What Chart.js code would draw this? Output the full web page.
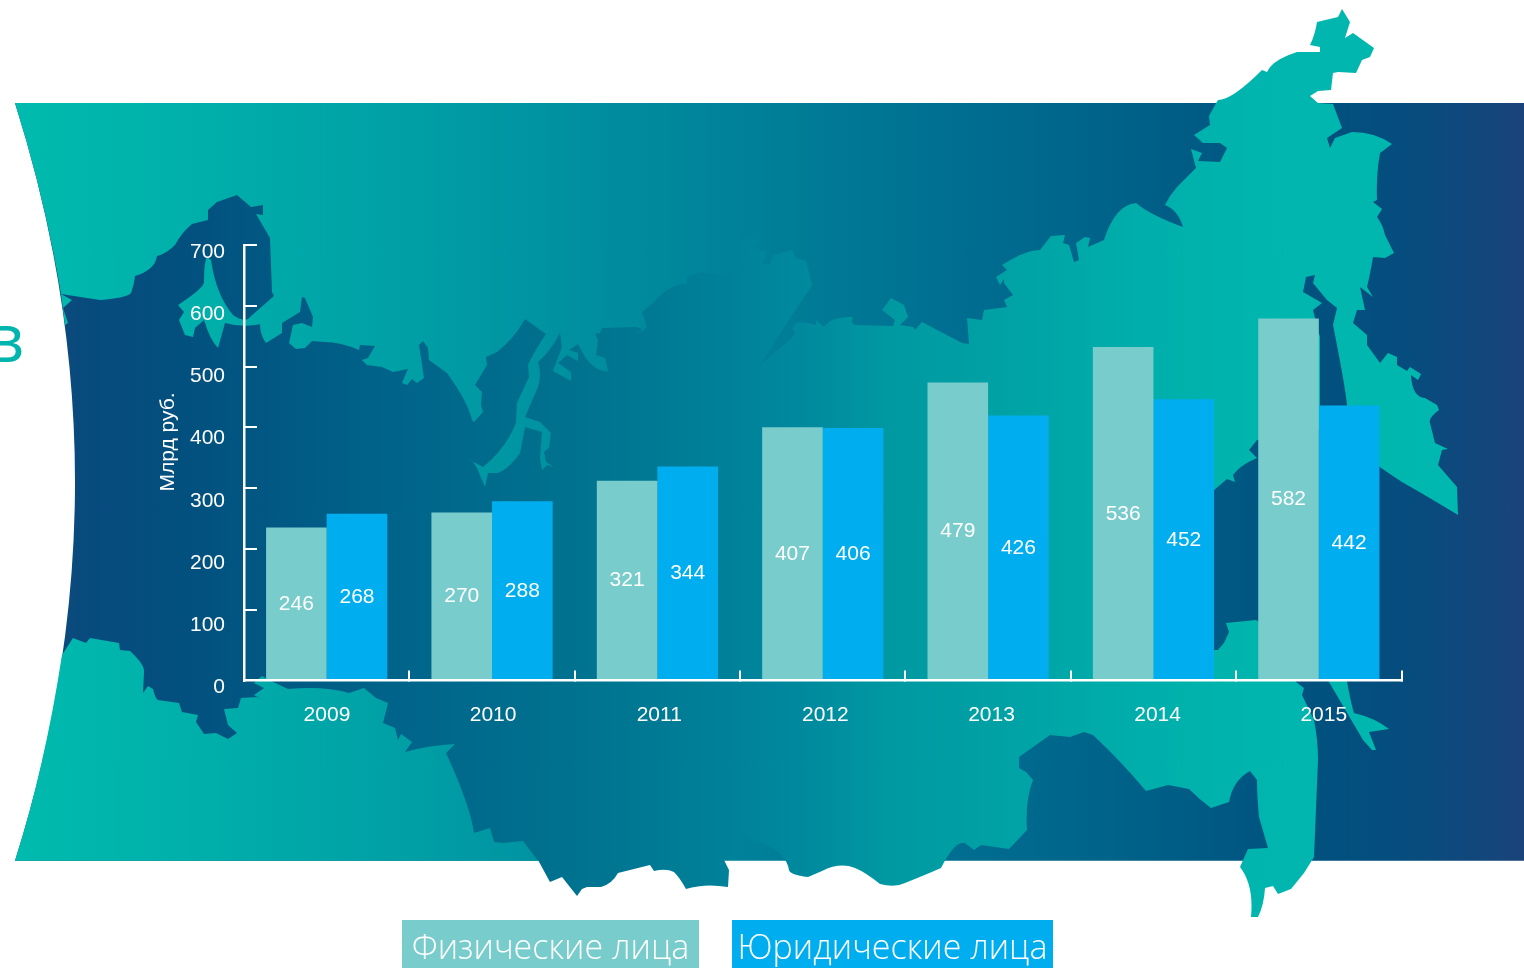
<!DOCTYPE html>
<html lang="ru">
<head>
<meta charset="utf-8">
<title>Физические и юридические лица</title>
<script src="https://cdn.jsdelivr.net/npm/chart.js@4"></script>
<style>
    html, body { margin: 0; padding: 0; background: #fff; overflow: hidden; }
    #page { position: relative; width: 1524px; height: 968px; overflow: hidden; }
    #map, #chart { position: absolute; left: 0; top: 0; }
    .legend { position: absolute; top: 920px; height: 48px; line-height: 52px; color: #fff; text-align: center;
        font-family: "Open Sans", "Noto Sans", sans-serif; font-size: 34px; font-weight: 300; white-space: nowrap; }
    #heading { position: absolute; left: -14px; top: 296px; line-height: 80px; color: #00b5ad;
        font-family: "Open Sans", "Noto Sans", sans-serif; font-size: 67px; font-weight: 400; }
</style>
</head>
<body>
<div id="page">
    <svg id="map" width="1524" height="968" viewBox="0 0 1524 968">
        <defs>
            <linearGradient id="sea" gradientUnits="userSpaceOnUse" x1="0" y1="0" x2="1524" y2="0">
                <stop offset="0.01" stop-color="#14477c"/>
                <stop offset="0.06" stop-color="#074b7d"/>
                <stop offset="0.13" stop-color="#02517f"/>
                <stop offset="0.26" stop-color="#00648a"/>
                <stop offset="0.39" stop-color="#007490"/>
                <stop offset="0.482" stop-color="#00829a"/>
                <stop offset="0.62" stop-color="#006f91"/>
                <stop offset="0.72" stop-color="#00648a"/>
                <stop offset="0.78" stop-color="#005c85"/>
                <stop offset="0.85" stop-color="#00527f"/>
                <stop offset="0.92" stop-color="#054d7e"/>
                <stop offset="1" stop-color="#1a437a"/>
            </linearGradient>
            <linearGradient id="land" gradientUnits="userSpaceOnUse" x1="0" y1="0" x2="1524" y2="0">
                <stop offset="0.01" stop-color="#00bbae"/>
                <stop offset="0.13" stop-color="#00afaa"/>
                <stop offset="0.26" stop-color="#00a0a6"/>
                <stop offset="0.39" stop-color="#008ea0"/>
                <stop offset="0.482" stop-color="#00829a"/>
                <stop offset="0.525" stop-color="#00899e"/>
                <stop offset="0.59" stop-color="#009aa2"/>
                <stop offset="0.656" stop-color="#00a1a5"/>
                <stop offset="0.72" stop-color="#00aba9"/>
                <stop offset="0.82" stop-color="#00b5ae"/>
                <stop offset="0.95" stop-color="#00b8af"/>
            </linearGradient>
        </defs>
        <!-- background band with curved left side -->
        <path fill="url(#sea)" d="M15,103 L1524,103 L1524,860.7 L15,860.7 Q135,482 15,103 Z"/>
        <path fill="url(#sea)" d="M538,860 L550,882 L562,877 L577,896 L582,889 L587,887 L601,887 Q612,884 618,873 L650,865 L654,871 Q666,868 674,872 Q680,878 686,889 Q705,883 728,887 L729,870 L724,860 Z"/>
        <!-- north west land -->
        <path fill="url(#land)" d="M15,103 L735,103 L737,267 L725,277 L701,272 L687,277 L687,284 Q670,284 656,300 L642,312 L647,327 L636,333 L646,330 L636,327 L602,328 L600,333 L595,334 L598,340 L596,355 L605,358 L608,371 Q597,373 585,357 L578,344 L569,350 L578,353 L578,361 L567,355 L558,363 L571,372 L571,381 L553,371 L562,347 L560,333 Q550,352 538,362 Q542,375 538,387 L525,417 L540,422 L551,433 L549,448 L544,452 L546,462 L554,467 L547,465 L542,470 L540,458 L542,432 L525,427 L520,453 Q508,470 497,473 L488,473 L485,487 L477,468 L473,462 L462,456 L483,467 Q505,450 516,423 L517,403 L529,377 L528,365 Q535,350 546,334 L525,319 Q513,340 497,352 L486,357 L487,365 L475,385 L482,392 L481,405 L483,412 L474,422 L472,420 Q468,402 447,373 L429,360 L428,348 L423,341 L419,345 L424,378 L417,383 L412,379 L407,385 L402,383 L408,369 L393,372 L382,367 L367,365 L362,360 L368,358 L375,346 L360,345 L359,350 Q340,342 325,342 L312,341 L305,348 L296,349 L289,343 L293,325 L302,323 L312,327 L313,317 L305,298 L302,297 L300,312 L282,323 L282,333 L266,343 Q260,335 260,324 Q243,328 225,323 L218,348 Q210,340 204,320 L195,328 L193,337 L185,335 L179,320 L184,312 L178,305 Q204,288 204,282 Q204,262 207,257 L211,260 Q216,295 233,315 Q241,321 248,319 L258,310 L274,296 L272,292 L270,238 L256,214 L263,215 L263,205 L251,207 L237,195 L217,202 L208,210 L208,220 L192,224 Q182,232 175,245 Q166,254 157,256 Q155,270 135,276 Q134,285 131,293 Q127,298 100,300 L61,294 Q45,198 15,103 Z"/>
        <path fill="url(#land)" d="M61,294 L72,300 L63,308 L68,323 L65,325 Z"/>
        <!-- south west land -->
        <path fill="url(#land)" d="M62,655 L73,638 L86,643 L90,638 L119,643 L120,650 L130,651 Q145,665 144,672 L143,693 L148,686 L153,689 Q155,698 158,700 L179,703 L182,712 L198,715 L196,722 L204,734 L216,733 L228,739 L237,733 L228,725 L224,709 L238,708 L241,698 L257,697 L263,700 L254,695 L264,688 L254,683 L262,676 L269,680 L288,689 Q325,686 349,693 L364,688 L376,698 L388,703 L383,723 L395,728 L398,740 L401,734 L412,742 L405,752 Q430,745 455,744 L446,753 Q470,805 474,833 L490,828 L494,842 L504,843 L523,841 L538,860.7 L15,860.7 Q45,766 62,655 Z"/>
        <!-- east land with the north peninsula -->
        <path fill="url(#land)" d="M737,267 L732,252 L748,235 L760,242 L754,248 L767,251 L763,264 L770,264 L773,255 L792,250 L796,258 L806,261 L812,285 L779,335 L772,347 L757,368 L775,352 L792,338 L795,333 L792,328 L797,322 L808,323 L816,325 L816,320 L824,327 Q831,316 853,317 Q850,325 857,325 L893,326 L895,320 L882,310 L891,298 L904,305 L908,317 L900,325 L913,327 L915,330 L922,322 L962,343 L969,344 L967,318 L982,320 L984,310 L1007,307 L1004,300 L1013,295 L1004,283 L1004,279 L1000,285 L996,277 L1007,270 L1002,265 Q1025,250 1040,250 L1051,236 L1065,235 L1063,243 L1069,245 L1074,262 L1079,260 L1076,243 L1085,237 L1090,238 L1088,247 L1104,240 Q1115,205 1136,203 Q1150,215 1183,227 Q1178,210 1165,205 Q1170,195 1177,187 L1196,168 L1191,149 L1202,153 L1198,161 L1220,162 L1227,148 L1220,143 L1203,143 L1194,135 L1210,125 L1209,116 Q1215,105 1218,100 Q1232,100 1262,70 L1267,72 Q1272,60 1297,52 L1320,52 L1320,47 L1310,45 Q1315,35 1317,22 L1338,17 L1342,9 L1350,22 L1345,38 L1353,33 L1374,48 L1370,57 L1362,60 L1356,73 L1338,72 L1333,73 L1331,90 L1318,91 L1310,96 L1318,103 L1333,104 L1342,128 L1327,138 L1330,148 L1335,138 L1352,132 Q1375,132 1392,144 L1380,153 Q1376,175 1377,200 L1373,202 L1382,209 L1377,217 Q1383,225 1385,235 L1394,253 L1385,258 L1373,257 Q1370,275 1367,287 L1373,297 L1360,287 L1365,310 L1357,310 L1353,323 L1367,335 L1367,345 L1380,363 L1388,353 L1397,357 L1397,365 L1407,371 L1410,367 L1421,374 L1418,380 L1411,375 Q1412,397 1425,398 L1437,405 L1439,410 Q1428,418 1430,423 L1435,443 L1448,449 L1442,450 L1438,465 L1457,487 L1458,515 Q1425,495 1402,482 L1387,472 L1377,465 L1347,440 L1347,405 Q1345,385 1333,325 L1337,308 L1327,300 L1313,283 L1315,275 L1306,277 L1303,292 L1322,303 L1313,310 L1320,337 L1320,430 L1257,440 L1249,450 L1257,458 Q1240,465 1233,475 L1235,482 L1227,479 L1213,491 L1195,510 L1195,650 L1218,650 L1224,643 L1229,632 L1226,623 L1256,620 L1290,640 L1296,682 L1304,688 L1302,695 L1314,720 Q1318,740 1318,760 L1314,857 L1304,873 L1291,889 L1278,894 L1273,886 L1265,888 Q1264,905 1258,917 L1251,917 Q1254,885 1240,867 L1248,849 L1268,848 L1259,817 Q1257,795 1257,780 L1250,771 Q1233,780 1229,802 L1211,808 Q1200,800 1189,789 L1168,785 L1146,791 Q1120,760 1093,735 L1084,732 L1070,737 L1050,735 L1019,757 L1019,768 L1026,772 L1033,780 Q1025,800 1027,830 L1009,849 L981,845 L974,850 L965,843 Q955,840 941,868 Q925,875 905,883 Q895,888 880,884 Q865,872 855,868 Q840,862 822,871 L808,877 Q790,875 789,870 Q786,852 760,842 L732,835 Z"/>
        <path fill="url(#land)" d="M1322,670 L1345,670 Q1350,700 1354,713 Q1375,718 1389,729 L1369,732 L1376,750 L1372,750 L1363,740 Z"/>
    </svg>
    <div id="heading">в</div>
    <canvas id="chart" width="1524" height="968"></canvas>
    <div class="legend" style="left:402px;width:297px;background:#78cccb">Физические лица</div>
    <div class="legend" style="left:732px;width:321px;background:#00aeef">Юридические лица</div>
</div>
<script>
const years = ['2009', '2010', '2011', '2012', '2013', '2014', '2015'];
const fizLica = [246, 270, 321, 407, 479, 536, 582];
const yurLica = [268, 288, 344, 406, 426, 452, 442];
const axisTitle = 'Млрд руб.';
const fontName = '"Liberation Sans", Arial, sans-serif';

// numbers in the middle of each bar + rotated axis caption
const barLabels = {
    id: 'barLabels',
    afterDatasetsDraw(chart) {
        const ctx = chart.ctx;
        ctx.save();
        ctx.fillStyle = '#fff';
        ctx.font = '21px ' + fontName;
        ctx.textAlign = 'center';
        ctx.textBaseline = 'middle';
        chart.data.datasets.forEach((ds, i) => {
            chart.getDatasetMeta(i).data.forEach((bar, j) => {
                ctx.fillText(ds.data[j], bar.x, (bar.y + bar.base) / 2);
            });
        });
        ctx.translate(168, 442);
        ctx.rotate(-Math.PI / 2);
        ctx.fillText(axisTitle, 0, 0);
        ctx.restore();
    }
};

new Chart(document.getElementById('chart'), {
    type: 'bar',
    data: {
        labels: years,
        datasets: [{
            label: 'Физические лица',
            data: fizLica,
            backgroundColor: '#78cccb',
            xAxisID: 'x',
            yAxisID: 'y'
        }, {
            label: 'Юридические лица',
            data: yurLica,
            backgroundColor: '#00aeef',
            xAxisID: 'x',
            yAxisID: 'y'
        }]
    },
    options: {
        responsive: false,
        animation: false,
        layout: { padding: { left: 0, right: 122.5, top: 245, bottom: 0 } },
        plugins: { legend: { display: false }, tooltip: { enabled: false } },
        datasets: { bar: { categoryPercentage: 0.733, barPercentage: 1 } },
        scales: {
            x: {
                position: 'bottom',
                weight: 0,
                ticks: { display: false },
                grid: { offset: true, drawOnChartArea: false, tickLength: -10, color: '#fff', lineWidth: 2, z: 1 },
                border: { color: '#fff', width: 2.5, z: 1 },
                afterFit(s) { s.height = 0; }
            },
            // the year labels sit a little wider apart than the bars
            xLabels: {
                type: 'linear',
                axis: 'x',
                position: 'bottom',
                weight: 1,
                offset: false,
                min: -0.4994,
                max: 6.468,
                grid: { display: false, drawTicks: false },
                border: { display: false },
                ticks: {
                    padding: 22,
                    maxRotation: 0,
                    autoSkip: false,
                    color: '#fff',
                    font: { family: fontName, size: 21 },
                    callback: v => years[v]
                },
                afterBuildTicks(s) { s.ticks = years.map((y, i) => ({ value: i })); },
                afterFit(s) { s.height = 287.5; }
            },
            y: {
                position: 'left',
                weight: 1,
                min: 0,
                max: 700,
                grid: { display: false, drawTicks: false },
                border: { display: false },
                ticks: {
                    stepSize: 100,
                    padding: 19,
                    labelOffset: 7,
                    color: '#fff',
                    font: { family: fontName, size: 21 }
                },
                afterFit(s) { s.width = 244; }
            },
            // tick marks of the original run a bit tighter than the labels
            yMarks: {
                type: 'linear',
                axis: 'y',
                position: 'left',
                weight: 0,
                min: -16.5,
                max: 700,
                grid: { drawOnChartArea: false, tickLength: -13, color: '#fff', lineWidth: 2, z: 1 },
                border: { color: '#fff', width: 2.5, z: 1 },
                ticks: { display: false, stepSize: 100 },
                afterBuildTicks(s) { s.ticks = s.ticks.filter(t => t.value >= 100); },
                afterFit(s) { s.width = 0; }
            }
        }
    },
    plugins: [barLabels]
});
</script>
</body>
</html>
